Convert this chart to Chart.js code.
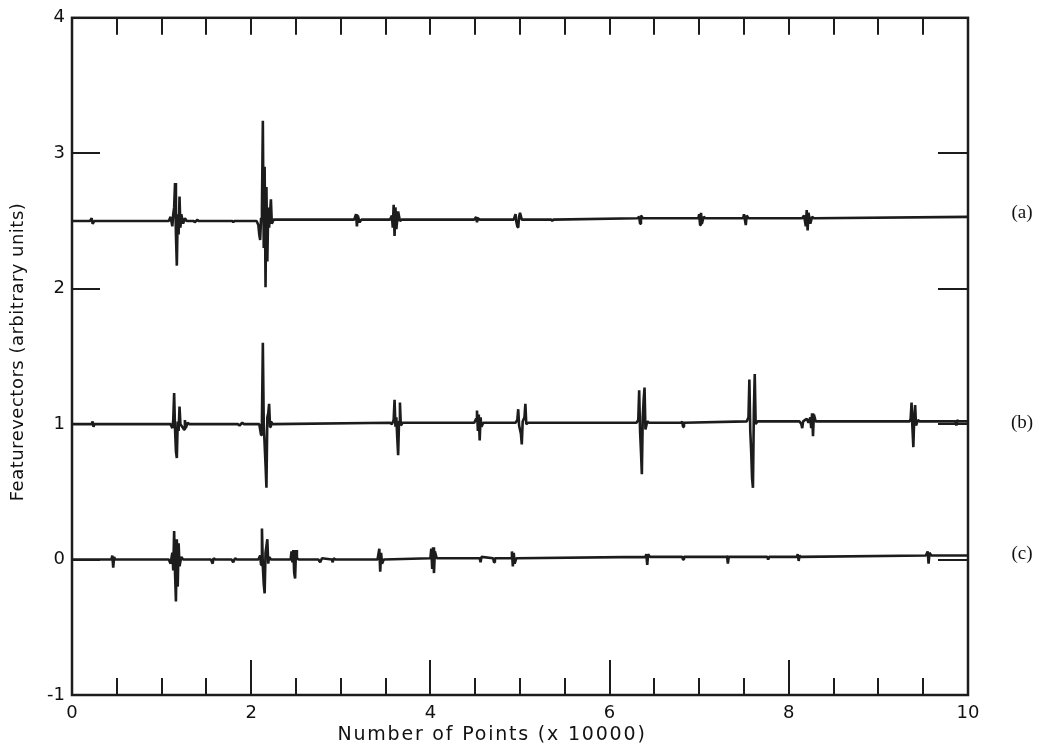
<!DOCTYPE html>
<html>
<head>
<meta charset="utf-8">
<script src="https://cdn.jsdelivr.net/npm/chart.js@4/dist/chart.umd.min.js"></script>
<style>
  html, body { margin: 0; padding: 0; background: #fff; }
  #wrap { width: 1049px; height: 745px; position: relative; }
</style>
</head>
<body>
<div id="wrap"><canvas id="c"></canvas></div>
<script>
// Feature-vector traces, x in units of 10000 points
const seriesAX = [0, 0.20, 0.22, 0.23, 0.25,
  1.08, 1.10, 1.12, 1.13, 1.14, 1.15, 1.16, 1.17, 1.18, 1.19, 1.20, 1.21, 1.22, 1.24, 1.26, 1.28,
  1.36, 1.37, 1.40, 1.41, 1.79, 1.80, 1.81,
  2.06, 2.08, 2.09, 2.10, 2.11, 2.12, 2.13, 2.14, 2.15, 2.16, 2.17, 2.18, 2.19, 2.20, 2.22, 2.23, 2.25,
  3.15, 3.17, 3.18, 3.19, 3.21, 3.23,
  3.55, 3.57, 3.58, 3.59, 3.60, 3.61, 3.62, 3.64, 3.66, 3.68,
  4.49, 4.51, 4.52, 4.53, 4.55,
  4.93, 4.95, 4.96, 4.97, 4.98, 4.99, 5.00, 5.02,
  5.35, 5.36, 5.37,
  6.31, 6.33, 6.34, 6.35, 6.37,
  6.99, 7.00, 7.01, 7.02, 7.03, 7.05, 7.07,
  7.49, 7.50, 7.52, 7.53, 7.55,
  8.15, 8.17, 8.19, 8.20, 8.21, 8.22, 8.24, 8.26, 8.28,
  10];
const seriesAY = [2.50, 2.50, 2.52, 2.48, 2.50,
  2.50, 2.53, 2.46, 2.55, 2.60, 2.78, 2.40, 2.17, 2.55, 2.40, 2.68, 2.45, 2.55, 2.48, 2.52, 2.50,
  2.50, 2.49, 2.51, 2.50, 2.50, 2.49, 2.50,
  2.50, 2.47, 2.40, 2.36, 2.52, 2.60, 3.24, 2.30, 2.90, 2.01, 2.75, 2.20, 2.60, 2.45, 2.66, 2.48, 2.51,
  2.51, 2.55, 2.46, 2.54, 2.49, 2.51,
  2.51, 2.54, 2.45, 2.62, 2.39, 2.60, 2.44, 2.57, 2.50, 2.51,
  2.51, 2.53, 2.49, 2.52, 2.51,
  2.51, 2.55, 2.49, 2.46, 2.45, 2.53, 2.56, 2.51,
  2.51, 2.50, 2.51,
  2.52, 2.53, 2.48, 2.54, 2.52,
  2.52, 2.55, 2.47, 2.56, 2.48, 2.53, 2.52,
  2.52, 2.55, 2.47, 2.54, 2.52,
  2.52, 2.54, 2.46, 2.58, 2.43, 2.56, 2.48, 2.53, 2.52,
  2.53];

const seriesBX = [0, 0.22, 0.23, 0.24, 0.25,
  1.10, 1.12, 1.13, 1.14, 1.15, 1.16, 1.17, 1.18, 1.19, 1.20, 1.21, 1.23, 1.25, 1.26, 1.27, 1.29, 1.31,
  1.85, 1.87, 1.90, 1.92,
  2.09, 2.10, 2.11, 2.12, 2.13, 2.14, 2.16, 2.17, 2.18, 2.19, 2.20, 2.21, 2.22, 2.24,
  3.55, 3.57, 3.59, 3.60, 3.61, 3.62, 3.63, 3.64, 3.65, 3.66, 3.67, 3.69,
  4.49, 4.51, 4.52, 4.53, 4.54, 4.55, 4.56, 4.57, 4.59,
  4.95, 4.97, 4.98, 4.99, 5.01, 5.02, 5.03, 5.05, 5.06, 5.07, 5.09,
  6.30, 6.32, 6.33, 6.34, 6.35, 6.36, 6.37, 6.38, 6.39, 6.40, 6.42, 6.44,
  6.80, 6.81, 6.82, 6.83,
  7.53, 7.55, 7.56, 7.57, 7.58, 7.59, 7.60, 7.61, 7.62, 7.63, 7.65,
  8.12, 8.14, 8.15, 8.16, 8.20, 8.22, 8.24, 8.25, 8.26, 8.27, 8.28, 8.30,
  9.35, 9.36, 9.37, 9.38, 9.39, 9.40, 9.41, 9.42, 9.44, 9.46,
  9.86, 9.87, 9.88, 9.89,
  10];
const seriesBY = [1.00, 1.00, 1.02, 0.98, 1.00,
  1.00, 0.97, 1.03, 1.23, 0.96, 0.80, 0.75, 1.02, 0.95, 1.13, 1.00, 0.98, 0.96, 1.03, 0.97, 1.01, 1.00,
  1.00, 0.99, 1.01, 1.00,
  1.00, 0.96, 0.92, 1.03, 1.60, 1.00, 0.70, 0.53, 1.05, 1.08, 1.15, 0.98, 1.02, 1.00,
  1.01, 1.00, 1.03, 1.18, 0.98, 1.05, 0.90, 0.77, 1.02, 1.16, 0.99, 1.01,
  1.01, 1.04, 1.10, 0.95, 1.07, 0.88, 1.05, 0.98, 1.01,
  1.01, 1.03, 1.11, 0.99, 0.93, 0.85, 1.02, 1.05, 1.15, 1.00, 1.01,
  1.01, 1.03, 1.25, 0.95, 0.80, 0.63, 1.05, 1.18, 1.27, 0.96, 1.02, 1.01,
  1.01, 1.02, 0.98, 1.01,
  1.02, 1.05, 1.33, 0.95, 0.80, 0.60, 0.53, 1.10, 1.37, 1.00, 1.02,
  1.02, 1.00, 0.97, 1.02, 1.04, 1.01, 1.05, 0.97, 1.08, 0.91, 1.07, 1.02,
  1.02, 1.04, 1.16, 0.97, 0.83, 1.05, 1.14, 0.99, 1.03, 1.02,
  1.02, 0.99, 1.03, 1.02,
  1.02];

const seriesCX = [0, 0.44, 0.45, 0.46, 0.47, 0.48,
  1.08, 1.10, 1.12, 1.13, 1.14, 1.15, 1.16, 1.17, 1.18, 1.19, 1.20, 1.22, 1.24,
  1.55, 1.57, 1.58, 1.60, 1.78, 1.80, 1.82, 1.84,
  2.08, 2.10, 2.11, 2.12, 2.13, 2.14, 2.15, 2.16, 2.17, 2.18, 2.19, 2.20, 2.22,
  2.44, 2.45, 2.46, 2.47, 2.48, 2.49, 2.50, 2.51, 2.53,
  2.75, 2.77, 2.79, 2.90, 2.91, 2.92, 2.94,
  3.41, 3.43, 3.44, 3.45, 3.46, 3.48,
  4.00, 4.01, 4.02, 4.03, 4.04, 4.05, 4.07,
  4.55, 4.56, 4.57, 4.70, 4.71, 4.72,
  4.90, 4.91, 4.92, 4.93, 4.94, 4.96,
  6.40, 6.41, 6.42, 6.43, 6.45,
  6.81, 6.82, 6.83,
  7.30, 7.31, 7.32, 7.33,
  7.76, 7.77, 7.78,
  8.09, 8.10, 8.11, 8.12, 8.13,
  9.53, 9.55, 9.56, 9.57, 9.59,
  10];
const seriesCY = [0.00, 0.00, 0.03, -0.06, 0.02, 0.00,
  0.00, -0.03, 0.05, -0.08, 0.21, -0.10, -0.31, 0.15, -0.20, 0.12, -0.05, 0.02, 0.00,
  0.00, -0.03, 0.01, 0.00, 0.00, -0.02, 0.01, 0.00,
  0.00, 0.03, -0.04, 0.23, -0.05, -0.18, -0.25, 0.05, 0.10, 0.15, -0.03, 0.02, 0.00,
  0.00, 0.06, -0.02, 0.07, -0.10, -0.14, 0.07, 0.01, 0.00,
  0.00, -0.02, 0.01, 0.00, -0.02, 0.01, 0.00,
  0.00, 0.08, -0.09, 0.05, -0.03, 0.00,
  0.01, 0.08, -0.07, 0.09, -0.10, 0.06, 0.01,
  0.01, -0.02, 0.02, 0.01, -0.02, 0.01,
  0.01, 0.06, -0.05, 0.05, -0.03, 0.01,
  0.02, 0.04, -0.04, 0.04, 0.02,
  0.02, 0.00, 0.02,
  0.02, 0.03, -0.03, 0.02,
  0.02, 0.00, 0.02,
  0.02, 0.04, -0.01, 0.03, 0.02,
  0.03, 0.06, -0.03, 0.05, 0.03,
  0.03];

// Trace names shown at the right edge and the value each one sits beside
const traceLabels = ['(a)', '(b)', '(c)'];
const traceLabelY = [2.56, 1.01, 0.04];

const xTitle = 'Number of Points (x 10000)';
const yTitle = 'Featurevectors (arbitrary units)';

const toPoints = (xs, ys) => xs.map((x, i) => ({ x: x, y: ys[i] }));
const ink = '#1c1c1c';

const frameAndTicks = {
  id: 'frameAndTicks',
  afterDraw(chart) {
    const { ctx, chartArea: a, scales: { x, y } } = chart;
    ctx.save();
    ctx.strokeStyle = ink;
    ctx.lineWidth = 2;
    x.ticks.forEach(t => {
      if (t.value <= x.min || t.value >= x.max) return;
      const px = Math.round(x.getPixelForValue(t.value));
      const major = t.value % 2 === 0;
      ctx.beginPath();
      ctx.moveTo(px, a.bottom); ctx.lineTo(px, a.bottom - (major ? 35 : 17));
      ctx.moveTo(px, a.top); ctx.lineTo(px, a.top + 17);
      ctx.stroke();
    });
    y.ticks.forEach(t => {
      if (t.value <= y.min || t.value >= y.max) return;
      const py = Math.round(y.getPixelForValue(t.value));
      ctx.beginPath();
      ctx.moveTo(a.left, py); ctx.lineTo(a.left + 28, py);
      ctx.moveTo(a.right, py); ctx.lineTo(a.right - 30, py);
      ctx.stroke();
    });
    ctx.lineWidth = 2.5;
    ctx.strokeRect(a.left, a.top, a.right - a.left, a.bottom - a.top);

    // trace names
    ctx.fillStyle = '#111';
    ctx.font = '19px "Liberation Serif", "DejaVu Serif", serif';
    ctx.textAlign = 'center';
    ctx.textBaseline = 'middle';
    traceLabels.forEach((lab, i) => {
      ctx.fillText(lab, 1022, y.getPixelForValue(traceLabelY[i]));
    });

    // axis titles
    ctx.textBaseline = 'alphabetic';
    ctx.font = '19px "DejaVu Sans", sans-serif';
    ctx.letterSpacing = '1.8px';
    ctx.fillText(xTitle, 492, 740);
    ctx.font = '18px "DejaVu Sans", sans-serif';
    ctx.letterSpacing = '0.5px';
    ctx.translate(23, 352);
    ctx.rotate(-Math.PI / 2);
    ctx.fillText(yTitle, 0, 0);
    ctx.restore();
  }
};

const lineStyle = { showLine: true, borderColor: ink, borderWidth: 2.6, borderJoinStyle: 'bevel', pointRadius: 0, tension: 0, fill: false };

new Chart(document.getElementById('c'), {
  type: 'scatter',
  data: {
    datasets: [
      Object.assign({ label: '(a)', data: toPoints(seriesAX, seriesAY) }, lineStyle),
      Object.assign({ label: '(b)', data: toPoints(seriesBX, seriesBY) }, lineStyle),
      Object.assign({ label: '(c)', data: toPoints(seriesCX, seriesCY) }, lineStyle)
    ]
  },
  options: {
    responsive: true,
    maintainAspectRatio: false,
    animation: false,
    layout: { padding: { left: 0, right: 81, top: 12, bottom: 0 } },
    plugins: { legend: { display: false }, tooltip: { enabled: false } },
    scales: {
      x: {
        type: 'linear', min: 0, max: 10,
        grid: { display: false, drawTicks: false },
        border: { display: false },
        ticks: {
          stepSize: 0.5, autoSkip: false, maxRotation: 0, padding: 8, color: '#111',
          font: { family: '"DejaVu Sans", sans-serif', size: 18 },
          callback: v => (v % 2 === 0 ? String(v) : '')
        },
        afterFit: s => { s.height = 50; }
      },
      y: {
        type: 'linear', min: -1, max: 4,
        grid: { display: false, drawTicks: false },
        border: { display: false },
        ticks: {
          stepSize: 1, padding: 7, color: '#111',
          font: { family: '"DejaVu Sans", sans-serif', size: 18 }
        },
        afterFit: s => { s.width = 72; }
      }
    }
  },
  plugins: [frameAndTicks]
});
</script>
</body>
</html>
